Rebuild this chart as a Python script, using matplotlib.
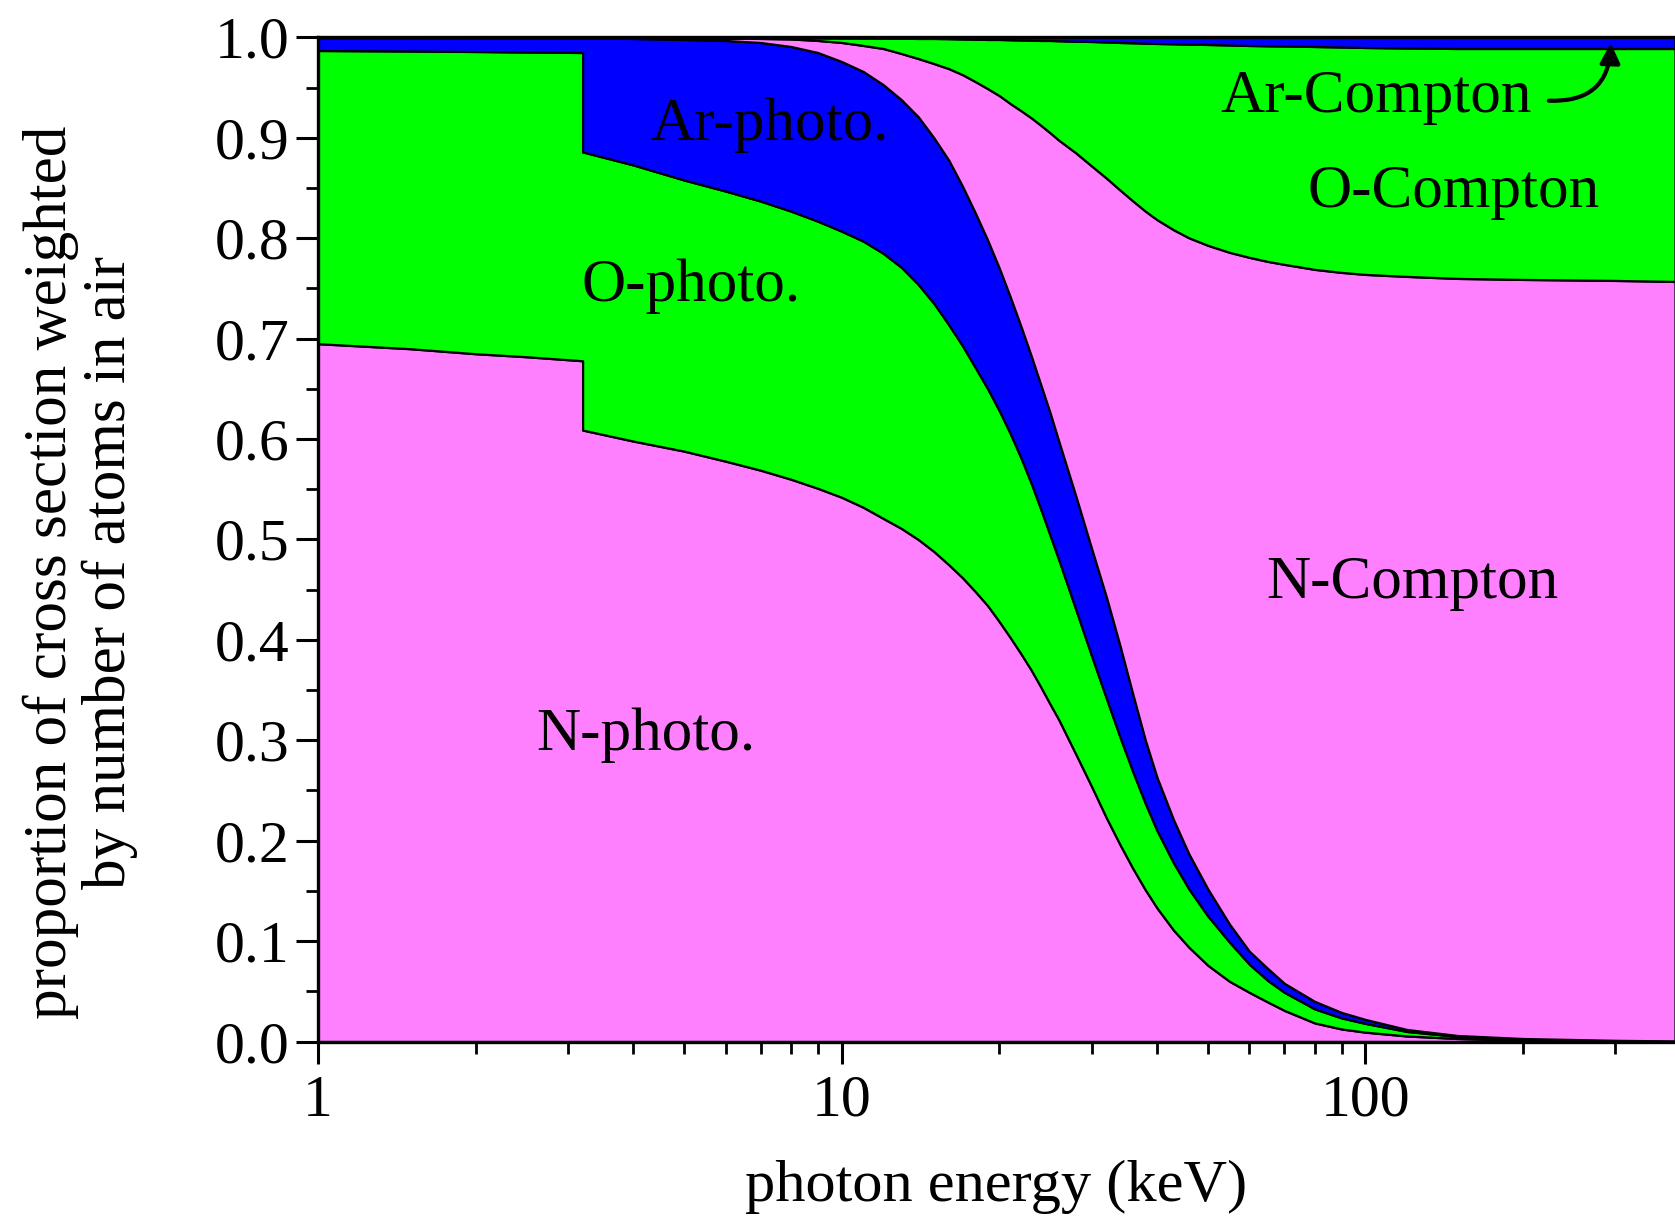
import matplotlib
matplotlib.use("Agg")
import matplotlib.pyplot as plt
from matplotlib.ticker import FixedLocator, NullFormatter, MultipleLocator, FormatStrFormatter

# ---------------- data ----------------
# photon energy in keV (3.2 appears twice: argon K-edge step)
energy = [1, 1.5, 2, 2.5, 3.2, 3.2, 4, 5, 6, 7, 8, 9, 10, 11, 12, 13, 14, 15, 16, 17,
          18, 19, 20, 21, 22, 23, 24, 25, 26, 28, 30, 32, 34, 36, 38, 40, 43, 46, 50,
          55, 60, 65, 70, 80, 90, 100, 120, 150, 200, 300, 390]

# cumulative proportions (upper edge of each stacked layer)
n_photo_top = [0.695, 0.690, 0.685, 0.682, 0.678, 0.609, 0.598, 0.588, 0.578, 0.569,
               0.560, 0.551, 0.542, 0.532, 0.521, 0.511, 0.500, 0.488, 0.475, 0.462,
               0.448, 0.434, 0.418, 0.402, 0.386, 0.370, 0.353, 0.336, 0.320, 0.286,
               0.254, 0.223, 0.196, 0.172, 0.151, 0.133, 0.111, 0.094, 0.076, 0.060,
               0.049, 0.0395, 0.031, 0.0185, 0.0125, 0.0093, 0.0055, 0.003, 0.0013, 0.0004,
               0.0002]

o_photo_top = [0.987, 0.9865, 0.986, 0.9855, 0.985, 0.886, 0.873, 0.858, 0.847, 0.837,
               0.827, 0.817, 0.807, 0.797, 0.785, 0.771, 0.754, 0.735, 0.714, 0.693,
               0.671, 0.650, 0.628, 0.605, 0.581, 0.556, 0.530, 0.504, 0.479, 0.430,
               0.384, 0.342, 0.303, 0.268, 0.237, 0.210, 0.178, 0.152, 0.125, 0.099,
               0.077, 0.061, 0.049, 0.0325, 0.0235, 0.018, 0.010, 0.005, 0.0025, 0.001,
               0.0005]

ar_photo_top = [0.9999, 0.9998, 0.9997, 0.9996, 0.9995, 0.9995, 0.999, 0.998, 0.997, 0.995,
                0.991, 0.985, 0.976, 0.966, 0.953, 0.938, 0.921, 0.900, 0.878, 0.852,
                0.825, 0.798, 0.770, 0.741, 0.712, 0.683, 0.654, 0.626, 0.597, 0.543,
                0.491, 0.443, 0.394, 0.345, 0.300, 0.263, 0.221, 0.187, 0.152, 0.117,
                0.090, 0.073, 0.058, 0.040, 0.029, 0.022, 0.012, 0.006, 0.003, 0.0012,
                0.0006]

n_compton_top = [0.99995, 0.9999, 0.9998, 0.9997, 0.9996, 0.9996, 0.9996, 0.9995, 0.9993, 0.999,
                 0.9985, 0.997, 0.995, 0.992, 0.989, 0.984, 0.979, 0.974, 0.969, 0.963,
                 0.956, 0.949, 0.942, 0.934, 0.927, 0.920, 0.9125, 0.905, 0.8975, 0.885,
                 0.872, 0.860, 0.848, 0.837, 0.827, 0.8185, 0.8085, 0.8005, 0.793, 0.786,
                 0.781, 0.777, 0.774, 0.769, 0.766, 0.764, 0.762, 0.760, 0.759, 0.758,
                 0.757]

o_compton_top = [0.99999, 0.99998, 0.99996, 0.99994, 0.9999, 0.9999, 0.9999, 0.9999, 0.9998, 0.9998,
                 0.9997, 0.9996, 0.9995, 0.9994, 0.9993, 0.9992, 0.999, 0.999, 0.9988, 0.9985,
                 0.9983, 0.998, 0.998, 0.9977, 0.9975, 0.9972, 0.997, 0.997, 0.9967, 0.9962,
                 0.996, 0.9955, 0.995, 0.9947, 0.9943, 0.994, 0.9937, 0.9933, 0.993, 0.9925,
                 0.992, 0.9917, 0.9915, 0.991, 0.9905, 0.990, 0.9895, 0.989, 0.989, 0.989,
                 0.989]

ar_compton_top = [1.0] * len(energy)

layer_names = ["N-photo.", "O-photo.", "Ar-photo.", "N-Compton", "O-Compton", "Ar-Compton"]
layer_colors = ["#FF80FF", "#00FF00", "#0000FF", "#FF80FF", "#00FF00", "#0000FF"]

x_major = [1, 10, 100]
x_major_labels = ["1", "10", "100"]
x_minor = [2, 3, 4, 5, 6, 7, 8, 9, 20, 30, 40, 50, 60, 70, 80, 90, 200, 300]

# ---------------- figure ----------------
plt.rcParams["font.family"] = ["Liberation Serif", "DejaVu Serif"]

fig = plt.figure(figsize=(16.75, 12.2), dpi=100)
ax = fig.add_axes([0.1899, 0.1463, 0.8101, 0.823])

tops = [n_photo_top, o_photo_top, ar_photo_top, n_compton_top, o_compton_top, ar_compton_top]
lower = [0.0] * len(energy)
for top, col, name in zip(tops, layer_colors, layer_names):
    ax.fill_between(energy, lower, top, facecolor=col, edgecolor="black",
                    linewidth=1.6, label=name)
    lower = top

ax.set_xscale("log")
ax.set_xlim(1, 390)
ax.set_ylim(0, 1)

ax.xaxis.set_major_locator(FixedLocator(x_major))
ax.set_xticklabels(x_major_labels)
ax.xaxis.set_minor_locator(FixedLocator(x_minor))
ax.xaxis.set_minor_formatter(NullFormatter())
ax.yaxis.set_major_locator(MultipleLocator(0.1))
ax.yaxis.set_minor_locator(MultipleLocator(0.05))
ax.yaxis.set_major_formatter(FormatStrFormatter("%.1f"))

ax.tick_params(which="major", direction="out", length=15.8, width=2.2,
               labelsize=43, pad=5, top=False, right=False)
ax.tick_params(axis="x", which="major", pad=8)
ax.tick_params(which="minor", direction="out", length=8.6, width=2.0,
               top=False, right=False)

for s in ["left", "bottom", "top"]:
    ax.spines[s].set_linewidth(2.4)
ax.spines["right"].set_visible(False)
ax.set_axisbelow(False)

# labels
ax.set_xlabel("photon energy (keV)", fontsize=43.5)
ax.xaxis.set_label_coords(0.5, -0.145)
ax.xaxis.label.set_va("center")

fig.text(0.048, 0.531, "proportion of cross section weighted\nby number of atoms in air",
         rotation=90, fontsize=44, ha="center", va="center", multialignment="center",
         linespacing=1.05)

# region annotations
txt_kw = dict(fontsize=44, ha="center", va="center")
ax.text(7.27, 0.913, "Ar-photo.", **txt_kw)
ax.text(5.16, 0.752, "O-photo.", **txt_kw)
ax.text(4.23, 0.305, "N-photo.", **txt_kw)
ax.text(123, 0.456, "N-Compton", **txt_kw)
ax.text(147, 0.846, "O-Compton", **txt_kw)
ax.text(104.6, 0.940, "Ar-Compton", **txt_kw)

ax.annotate("", xy=(294, 0.9945), xytext=(224, 0.937),
            arrowprops=dict(arrowstyle="-|>", connectionstyle="arc3,rad=0.5",
                            lw=3, color="black", mutation_scale=30,
                            shrinkA=0, shrinkB=0))

fig.savefig("out.png", dpi=100)
